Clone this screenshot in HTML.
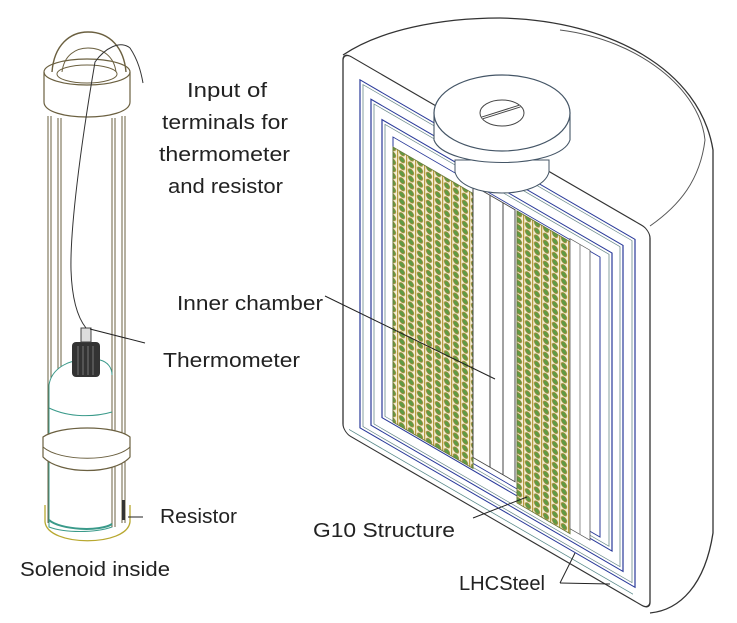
<!DOCTYPE html>
<html><head><meta charset="utf-8"><style>
body{margin:0;background:#fff;}
svg{display:block}
text{font-family:"Liberation Sans",sans-serif;font-size:20px;fill:#222}
</style></head><body>
<svg width="737" height="623" viewBox="0 0 737 623" xmlns="http://www.w3.org/2000/svg">
<defs>
<pattern id="coil" width="9" height="7" patternUnits="userSpaceOnUse">
<rect width="9" height="7" fill="#f4f0d8"/>
<rect x="0" y="0" width="1.2" height="7" fill="#b89a3c"/>
<circle cx="5" cy="3.5" r="2.7" fill="#5f9a45" stroke="#a08a34" stroke-width="0.8"/>
</pattern>
</defs>
<!-- outer cylinder -->
<path d="M343,55 C380,30 440,18 500,18 C610,20 700,70 713,150 L713,533 C705,585 680,610 650,613" fill="#fff" stroke="#333" stroke-width="1.3"/>
<path d="M650,226 C680,205 700,180 705,140 C700,90 640,40 560,30" fill="none" stroke="#555" stroke-width="1"/>
<g transform="translate(343,52) matrix(1,0.58,0,1,0,0)">
<rect x="0" y="0" width="307" height="380" rx="8" fill="#fff" stroke="#333" stroke-width="1.3"/>
<line x1="6" y1="374" x2="290" y2="374" stroke="#5a8a8a" stroke-width="0.9"/>
<rect x="17" y="18" width="275" height="348" fill="none" stroke="#2a3a9a" stroke-width="1.2"/>
<rect x="20" y="21" width="269" height="342" fill="none" stroke="#6a8a8a" stroke-width="0.8"/>
<rect x="28" y="31" width="252" height="326" fill="none" stroke="#2a3a9a" stroke-width="1.2"/>
<rect x="31" y="34" width="246" height="320" fill="none" stroke="#6a8a8a" stroke-width="0.8"/>
<rect x="39" y="45" width="230" height="298" fill="none" stroke="#2a3a9a" stroke-width="1.2"/>
<rect x="42" y="48" width="224" height="292" fill="none" stroke="#6a8a8a" stroke-width="0.8"/>
<rect x="50" y="56" width="207" height="280" fill="none" stroke="#2a3a9a" stroke-width="1"/>
<rect x="50" y="66" width="80" height="275" fill="url(#coil)" stroke="#6a7a3a" stroke-width="1"/>
<rect x="130" y="58" width="42" height="272" fill="#fff" stroke="#444" stroke-width="1"/>
<line x1="147" y1="58" x2="147" y2="330" stroke="#444"/>
<line x1="160" y1="58" x2="160" y2="330" stroke="#444"/>
<rect x="174" y="58" width="53" height="292" fill="url(#coil)" stroke="#6a7a3a" stroke-width="1"/>
<rect x="227" y="55" width="20" height="290" fill="#fff" stroke="#555" stroke-width="0.8"/>
<line x1="237" y1="55" x2="237" y2="345" stroke="#777" stroke-width="0.8"/>
</g>
<!-- cap -->
<path d="M455,160 L455,172 C462,200 542,200 549,172 L549,160 Z" fill="#fff" stroke="#456" stroke-width="1"/>
<path d="M434,113 L434,140 C445,170 560,170 570,140 L570,113 Z" fill="#fff" stroke="#456" stroke-width="1.1"/>
<ellipse cx="502" cy="113" rx="68" ry="38" fill="#fff" stroke="#456" stroke-width="1.2"/>
<ellipse cx="502" cy="113" rx="22" ry="13" fill="#fff" stroke="#444" stroke-width="1"/>
<line x1="482" y1="118" x2="520" y2="106" stroke="#444" stroke-width="3"/>
<line x1="482" y1="118" x2="520" y2="106" stroke="#fff" stroke-width="1"/>
<!-- leader lines -->
<line x1="325" y1="296" x2="495" y2="379" stroke="#222" stroke-width="1"/>
<line x1="473" y1="518" x2="527" y2="497" stroke="#222" stroke-width="1"/>
<line x1="560" y1="583" x2="575" y2="553" stroke="#222"/>
<line x1="560" y1="583" x2="610" y2="584" stroke="#222"/>
<!-- left tube -->
<path d="M52,72 C54,45 70,32 88,32 C110,32 124,48 126,72" fill="none" stroke="#6b6040" stroke-width="1.4"/>
<path d="M62,72 C64,55 76,48 88,48 C102,48 114,56 116,72" fill="none" stroke="#6b6040" stroke-width="1"/>
<path d="M44,72 L44,102 C44,122 130,122 130,102 L130,72" fill="#fff" stroke="#6b6040" stroke-width="1.2"/>
<ellipse cx="87" cy="72" rx="43" ry="13" fill="none" stroke="#6b6040" stroke-width="1.2"/>
<ellipse cx="87" cy="74" rx="30" ry="9" fill="none" stroke="#6b6040" stroke-width="1"/>
<!-- rails -->
<g fill="none" stroke="#6b6040" stroke-width="1">
<line x1="48" y1="116" x2="48" y2="523"/><line x1="51" y1="116" x2="51" y2="523"/>
<line x1="58" y1="118" x2="58" y2="523"/><line x1="61" y1="118" x2="61" y2="523"/>
<line x1="112" y1="118" x2="112" y2="523"/><line x1="115" y1="118" x2="115" y2="523"/>
<line x1="122" y1="116" x2="122" y2="523"/><line x1="125" y1="116" x2="125" y2="523"/>
</g>
<!-- bottle -->
<path d="M49,385 C52,365 75,360 80,360 L100,360 C108,362 112,368 112,375 L112,527 C95,533 65,533 49,527 Z" fill="#fff" stroke="#3a9a8a" stroke-width="1"/>
<line x1="112" y1="375" x2="112" y2="527" stroke="#6b6040"/>
<line x1="115" y1="375" x2="115" y2="527" stroke="#6b6040"/>
<path d="M49,408 C70,418 95,417 112,412" fill="none" stroke="#3a9a8a"/>
<path d="M43,437 L43,457 C60,475 115,475 130,457 L130,437 C115,425 60,425 43,437 Z" fill="#fff" stroke="#6b6040" stroke-width="1.2"/>
<path d="M43,447 C60,462 115,462 130,447" fill="none" stroke="#6b6040"/>
<line x1="112" y1="470" x2="112" y2="523" stroke="#6b6040"/>
<line x1="115" y1="470" x2="115" y2="523" stroke="#6b6040"/>
<path d="M45,505 L45,522 C48,547 127,547 130,522 L130,505" fill="none" stroke="#b8a830" stroke-width="1.3"/>
<path d="M49,520 C60,530 100,532 112,524" fill="none" stroke="#3a9a8a" stroke-width="2"/>
<rect x="122" y="500" width="3" height="20" fill="#333"/>
<!-- thermometer -->
<rect x="72" y="342" width="28" height="35" rx="4" fill="#333"/>
<g stroke="#888" stroke-width="0.8"><line x1="78" y1="346" x2="78" y2="375"/><line x1="83" y1="346" x2="83" y2="375"/><line x1="88" y1="346" x2="88" y2="375"/><line x1="93" y1="346" x2="93" y2="375"/></g>
<rect x="81" y="328" width="10" height="14" fill="#ddd" stroke="#444"/>
<path d="M86,328 C78,318 72,300 71,270 C70,230 80,150 95,62 C105,48 120,40 130,48 C138,60 141,72 143,83" fill="none" stroke="#333" stroke-width="1"/>
<line x1="90" y1="329" x2="145" y2="343" stroke="#222"/>
<line x1="128" y1="517" x2="143" y2="517" stroke="#222"/>
<!-- labels -->
<text x="187" y="97" textLength="80" lengthAdjust="spacingAndGlyphs">Input of</text>
<text x="162" y="129" textLength="126" lengthAdjust="spacingAndGlyphs">terminals for</text>
<text x="159" y="161" textLength="131" lengthAdjust="spacingAndGlyphs">thermometer</text>
<text x="168" y="193" textLength="115" lengthAdjust="spacingAndGlyphs">and resistor</text>
<text x="177" y="310" textLength="146" lengthAdjust="spacingAndGlyphs">Inner chamber</text>
<text x="163" y="367" textLength="137" lengthAdjust="spacingAndGlyphs">Thermometer</text>
<text x="160" y="523" textLength="77" lengthAdjust="spacingAndGlyphs">Resistor</text>
<text x="20" y="576" textLength="150" lengthAdjust="spacingAndGlyphs">Solenoid inside</text>
<text x="313" y="537" textLength="142" lengthAdjust="spacingAndGlyphs">G10 Structure</text>
<text x="459" y="590" textLength="86" lengthAdjust="spacingAndGlyphs">LHCSteel</text>
</svg>
</body></html>
